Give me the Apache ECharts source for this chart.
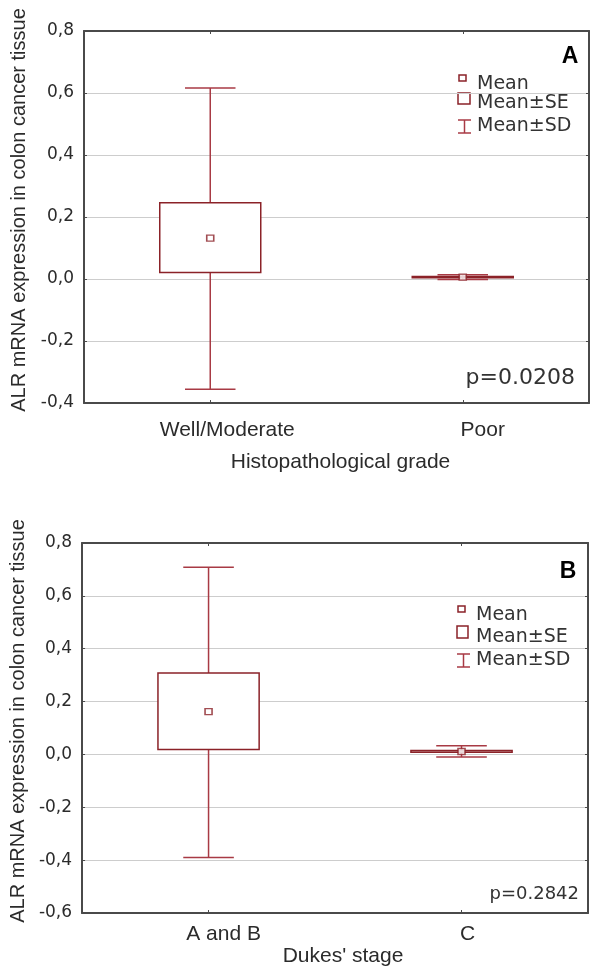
<!DOCTYPE html>
<html>
<head>
<meta charset="utf-8">
<script src="https://cdn.jsdelivr.net/npm/echarts@6/dist/echarts.min.js"></script>
<style>
html,body{margin:0;padding:0;background:#fff;}
#main{width:592px;height:968px;}
</style>
</head>
<body>
<div id="main"></div>
<script>
// panel A - histopathological grade
var gradeCats = ['Well/Moderate', 'Poor'];
var gradeMean = [0.132, 0.006];
var gradeSeLow = [0.021, 0.004];
var gradeSeHigh = [0.246, 0.008];
var gradeSdLow = [-0.356, -0.002];
var gradeSdHigh = [0.616, 0.014];
var gradeTicks = [-0.4, 0.8, 0.2];

// panel B - Dukes' stage
var stageCats = ['A and B', 'C'];
var stageMean = [0.162, 0.011];
var stageSeLow = [0.019, 0.008];
var stageSeHigh = [0.308, 0.015];
var stageSdLow = [-0.390, -0.010];
var stageSdHigh = [0.708, 0.033];
var stageTicks = [-0.6, 0.8, 0.2];

var whiskerColor = '#a83a44';
var boxColor = '#8b2228';
var txtColor = '#2b2b2b';
var yName = 'ALR mRNA expression in colon cancer tissue';

function fmtComma(v) {
    return v.toFixed(1).replace('.', ',');
}

function sdItem(params, api) {
    var x = api.value(0);
    var lo = api.coord([x, api.value(1)]);
    var hi = api.coord([x, api.value(2)]);
    var cap = api.size([1, 0])[0] * 0.1;
    var st = {stroke: whiskerColor, lineWidth: 1.5};
    return {
        type: 'group',
        children: [
            {type: 'line', shape: {x1: lo[0], y1: lo[1], x2: hi[0], y2: hi[1]}, style: st},
            {type: 'line', shape: {x1: hi[0] - cap, y1: hi[1], x2: hi[0] + cap, y2: hi[1]}, style: st},
            {type: 'line', shape: {x1: lo[0] - cap, y1: lo[1], x2: lo[0] + cap, y2: lo[1]}, style: st}
        ]
    };
}

function seItem(params, api) {
    var x = api.value(0);
    var lo = api.coord([x, api.value(1)]);
    var hi = api.coord([x, api.value(2)]);
    var half = api.size([1, 0])[0] * 0.2;
    return {
        type: 'rect',
        shape: {x: hi[0] - half, y: hi[1], width: half * 2, height: lo[1] - hi[1]},
        style: {fill: '#fff', stroke: boxColor, lineWidth: 1.5}
    };
}

function pairs(lo, hi) {
    return lo.map(function (v, i) { return [i, v, hi[i]]; });
}

function catData(cats, shifts) {
    return cats.map(function (c, i) {
        return {value: c, textStyle: {padding: [0, 0, 0, shifts[i] * 2]}};
    });
}

function panelAxes(gi, cats, ticks, shifts, labelMargin, xName, xNameGap, xNamePad, yNameGap) {
    var axisLine = {show: true, onZero: false, lineStyle: {color: '#4a4a4a', width: 2}};
    var yTick = {show: true, inside: true, length: 3, lineStyle: {color: '#4a4a4a'}};
    var xTick = {show: true, inside: true, length: 3, alignWithLabel: true, lineStyle: {color: '#4a4a4a'}};
    var xs = [
        {
            type: 'category', gridIndex: gi, data: catData(cats, shifts),
            axisLine: axisLine, axisTick: xTick,
            axisLabel: {color: txtColor, fontFamily: 'Liberation Sans', fontSize: 21, margin: labelMargin},
            name: xName, nameLocation: 'middle', nameGap: xNameGap,
            nameTextStyle: {color: txtColor, fontFamily: 'Liberation Sans', fontSize: 21, padding: xNamePad}
        },
        {
            type: 'category', gridIndex: gi, position: 'top', data: cats,
            axisLine: axisLine, axisTick: xTick, axisLabel: {show: false}
        }
    ];
    var ys = [
        {
            type: 'value', gridIndex: gi, min: ticks[0], max: ticks[1], interval: ticks[2],
            axisLine: axisLine, axisTick: yTick,
            axisLabel: {color: txtColor, fontFamily: 'DejaVu Sans', fontSize: 17, margin: 10, formatter: fmtComma},
            splitLine: {show: true, lineStyle: {color: '#cdcdcd', width: 1}},
            name: yName, nameLocation: 'middle', nameGap: yNameGap,
            nameTextStyle: {color: txtColor, fontFamily: 'Liberation Sans', fontSize: 20, padding: [0, 0, 0, 14]}
        },
        {
            type: 'value', gridIndex: gi, position: 'right', min: ticks[0], max: ticks[1], interval: ticks[2],
            axisLine: axisLine, axisTick: yTick, axisLabel: {show: false}, splitLine: {show: false}
        }
    ];
    return {x: xs, y: ys};
}

var axA = panelAxes(0, gradeCats, gradeTicks, [17, 20], 17, 'Histopathological grade', 49, [0, 0, 0, 8], 47);
var axB = panelAxes(1, stageCats, stageTicks, [15, 6], 11, "Dukes' stage", 33, [0, 0, 0, 16], 41);

function panelSeries(xi, yi, mean, seLo, seHi, sdLo, sdHi) {
    return [
        {type: 'custom', xAxisIndex: xi, yAxisIndex: yi, renderItem: sdItem, data: pairs(sdLo, sdHi), z: 2},
        {type: 'custom', xAxisIndex: xi, yAxisIndex: yi, renderItem: seItem, data: pairs(seLo, seHi), z: 3},
        {
            type: 'scatter', xAxisIndex: xi, yAxisIndex: yi, symbol: 'rect', symbolSize: [7, 6], z: 4,
            itemStyle: {color: '#fff', borderColor: boxColor, borderWidth: 1.5},
            data: mean.map(function (v, i) { return [i, v]; })
        }
    ];
}

// legend drawn by hand: small square = Mean, box = Mean±SE, whisker = Mean±SD
function legendGraphics(ix, top, rows, sizes) {
    var g = [];
    g.push({type: 'rect', shape: {x: ix + 1, y: top[0], width: 7, height: 6}, style: {fill: '#fff', stroke: boxColor, lineWidth: 1.5}});
    g.push({type: 'rect', shape: {x: ix, y: top[1], width: sizes[0], height: sizes[1]}, style: {fill: '#fff', stroke: boxColor, lineWidth: 1.5}});
    var s = {stroke: whiskerColor, lineWidth: 1.5};
    g.push({type: 'line', shape: {x1: ix, y1: top[2], x2: ix + 13, y2: top[2]}, style: s});
    g.push({type: 'line', shape: {x1: ix, y1: top[3], x2: ix + 13, y2: top[3]}, style: s});
    g.push({type: 'line', shape: {x1: ix + 6.5, y1: top[2], x2: ix + 6.5, y2: top[3]}, style: s});
    var labels = ['Mean', 'Mean\u00b1SE', 'Mean\u00b1SD'];
    labels.forEach(function (t, i) {
        g.push({type: 'text', x: ix + 19, y: rows[i], style: {text: t, fill: '#333', font: '19px "DejaVu Sans"', verticalAlign: 'middle'}});
    });
    return g;
}

var graphics = []
    .concat(legendGraphics(458, [75, 93, 120, 133], [84, 103, 126], [12, 11]))
    .concat(legendGraphics(457, [606, 626, 654, 667], [615, 637, 660], [11, 12]))
    .concat([
        {type: 'text', x: 570, y: 57, style: {text: 'A', fill: '#000', font: 'bold 23px "Liberation Sans"', align: 'center', verticalAlign: 'middle'}},
        {type: 'text', x: 568, y: 572, style: {text: 'B', fill: '#000', font: 'bold 23px "Liberation Sans"', align: 'center', verticalAlign: 'middle'}},
        {type: 'text', x: 575, y: 378, style: {text: 'p=0.0208', fill: '#333', font: '22px "DejaVu Sans"', align: 'right', verticalAlign: 'middle'}},
        {type: 'text', x: 579, y: 894, style: {text: 'p=0.2842', fill: '#333', font: '18px "DejaVu Sans"', align: 'right', verticalAlign: 'middle'}}
    ]);

var option = {
    backgroundColor: '#fff',
    animation: false,
    grid: [
        {left: 84, top: 31, right: 3, height: 372},
        {left: 77, top: 543, right: 4, height: 371}
    ],
    xAxis: axA.x.concat(axB.x),
    yAxis: axA.y.concat(axB.y),
    series: []
        .concat(panelSeries(0, 0, gradeMean, gradeSeLow, gradeSeHigh, gradeSdLow, gradeSdHigh))
        .concat(panelSeries(2, 2, stageMean, stageSeLow, stageSeHigh, stageSdLow, stageSdHigh)),
    graphic: graphics
};

var chart = echarts.init(document.getElementById('main'));
chart.setOption(option);
</script>
</body>
</html>
